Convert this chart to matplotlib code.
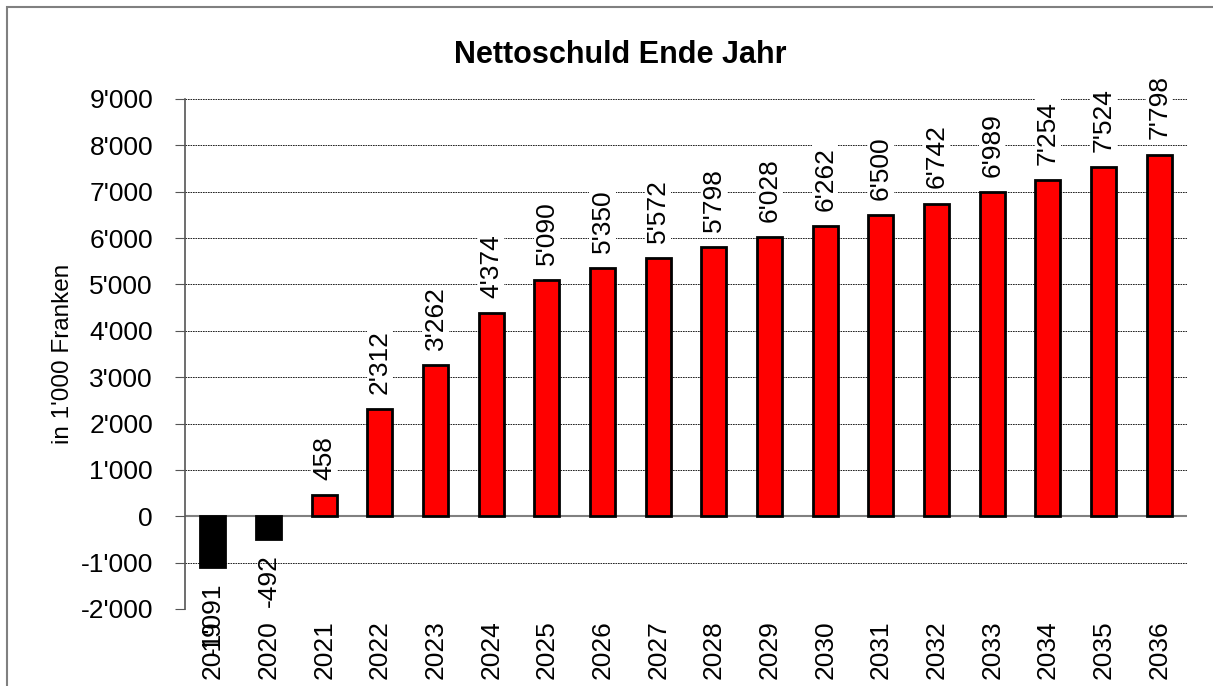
import numpy as np
import matplotlib
matplotlib.use("Agg")
import matplotlib.pyplot as plt
from matplotlib.patches import Rectangle

plt.rcParams['font.family'] = ['Liberation Sans', 'DejaVu Sans']

# Daten
jahre = ['2019', '2020', '2021', '2022', '2023', '2024', '2025', '2026', '2027',
         '2028', '2029', '2030', '2031', '2032', '2033', '2034', '2035', '2036']
nettoschuld = [-1091, -492, 458, 2312, 3262, 4374, 5090, 5350, 5572,
               5798, 6028, 6262, 6500, 6742, 6989, 7254, 7524, 7798]
y_ticks = [-2000, -1000, 0, 1000, 2000, 3000, 4000, 5000, 6000, 7000, 8000, 9000]


def fmt(v):
    return f"{v:,}".replace(",", "'")


fig = plt.figure(figsize=(12.13, 6.86), dpi=100)
ax = fig.add_axes([185 / 1213, 1 - 609 / 686, 1002 / 1213, 510 / 686])

# Rahmen
fig.patches.append(Rectangle((7 / 1213, -0.1), 1.1, 1 - 7 / 686 + 0.1,
                             transform=fig.transFigure, fill=False,
                             edgecolor='#808080', linewidth=1.5))

x = np.arange(len(jahre))
farben = ['black' if v < 0 else 'red' for v in nettoschuld]
ax.bar(x, nettoschuld, width=0.45, color=farben, edgecolor='black',
       linewidth=2, zorder=3)

ax.set_xlim(-0.5, len(jahre) - 0.5)
ax.set_ylim(-2000, 9000)
ax.set_yticks(y_ticks)
ax.set_yticklabels([fmt(t) for t in y_ticks], fontsize=19)
ax.set_xticks(x)
ax.set_xticklabels(jahre, rotation=90, fontsize=19)
ax.tick_params(axis='x', length=0, pad=8)
ax.tick_params(axis='y', direction='out', length=7, color='#555555', pad=16)

ax.yaxis.grid(True, linestyle=(0, (2, 1)), color='black', linewidth=0.6, zorder=0)
ax.axhline(0, color='#808080', linewidth=1.5, zorder=2)
for s in ['top', 'right', 'bottom']:
    ax.spines[s].set_visible(False)
ax.spines['left'].set_color('#555555')
ax.spines['left'].set_linewidth(1.2)

# Datenbeschriftungen
for xi, v in zip(x, nettoschuld):
    off = 11 if v >= 0 else -11
    ax.annotate(fmt(v), (xi, v), xytext=(0, off), textcoords='offset points',
                rotation=90, ha='center', va='bottom' if v >= 0 else 'top',
                fontsize=19, zorder=4, annotation_clip=False,
                bbox=dict(facecolor='white', edgecolor='none', pad=1,
                          alpha=1 if v >= 0 else 0))

ax.set_ylabel("in 1'000 Franken", fontsize=17.5)
ax.yaxis.set_label_coords((74 - 185) / 1002, 0.5)
fig.text(620 / 1213, 1 - 55 / 686, 'Nettoschuld Ende Jahr', ha='center',
         va='center', fontsize=22, fontweight='bold')

fig.savefig('out.png', dpi=100)
